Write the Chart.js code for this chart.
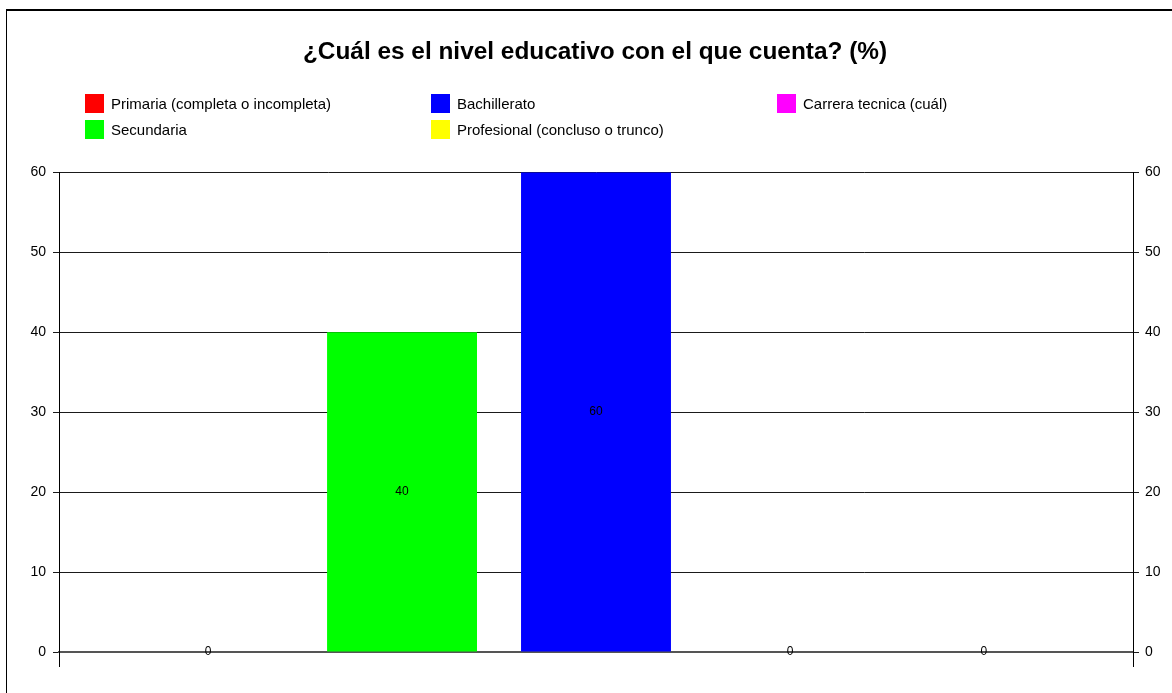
<!DOCTYPE html>
<html>
<head>
<meta charset="utf-8">
<script src="https://cdn.jsdelivr.net/npm/chart.js@4/dist/chart.umd.min.js"></script>
<style>
  body { margin: 0; background: #fff; font-family: "Liberation Sans", Arial, sans-serif; }
  #wrap { position: relative; width: 1172px; height: 693px; overflow: hidden; }
  #frame { position: absolute; left: 6px; top: 9px; right: -10px; bottom: -10px;
           border-left: 1px solid #000; border-top: 2px solid #000; }
  #legend { position: absolute; left: 85px; top: 93px; display: grid;
            grid-template-rows: 26px 26px; grid-auto-flow: column;
            grid-auto-columns: 346px; font-size: 15px; color: #000; }
  .item { display: flex; align-items: center; height: 20px; }
  .box { width: 19px; height: 19px; margin-right: 7px; }
</style>
</head>
<body>
<div id="wrap">
  <canvas id="chart" width="1172" height="693"></canvas>
  <div id="frame"></div>
  <div id="legend"></div>
</div>
<script>
// nivel educativo chart //
const seriesNames = [
  "Primaria (completa o incompleta)",
  "Secundaria",
  "Bachillerato",
  "Profesional (concluso o trunco)",
  "Carrera tecnica (cuál)",
];
const seriesValues = [0, 40, 60, 0, 0]; // %
const seriesColors = ["#ff0000", "#00ff00", "#0000ff", "#ffff00", "#ff00ff"];
const yTicks = [0, 10, 20, 30, 40, 50, 60];

// value written in the middle of each bar
const valueLabels = {
  id: "valueLabels",
  afterDatasetsDraw(chart) {
    const ctx = chart.ctx;
    ctx.save();
    ctx.font = "12px 'Liberation Sans', Arial, sans-serif";
    ctx.fillStyle = "#000";
    ctx.textAlign = "center";
    ctx.textBaseline = "middle";
    chart.data.datasets.forEach((ds, i) => {
      chart.getDatasetMeta(i).data.forEach((bar, j) => {
        ctx.fillText(String(ds.data[j]), bar.x, (bar.y + bar.base) / 2);
      });
    });
    ctx.restore();
  },
};

const data = {
  labels: [""],
  datasets: seriesNames.map((name, i) => ({
    label: name,
    data: [seriesValues[i]],
    backgroundColor: seriesColors[i],
    borderWidth: 0,
    categoryPercentage: 0.903,
    barPercentage: 0.773,
  })),
};

const tickFont = { family: "'Liberation Sans', Arial, sans-serif", size: 14 };

const config = {
  type: "bar",
  data: data,
  options: {
    responsive: false,
    animation: false,
    layout: { padding: { left: 18, top: 0, right: 0, bottom: 0 } },
    plugins: {
      legend: { display: false },
      tooltip: { enabled: false },
      title: {
        display: true,
        text: "¿Cuál es el nivel educativo con el que cuenta? (%)",
        color: "#000",
        font: { family: "'Liberation Sans', Arial, sans-serif", size: 24.4, weight: "bold" },
        padding: { top: 38, bottom: 105 },
      },
    },
    scales: {
      x: {
        grid: {
          display: true,
          offset: true,
          drawOnChartArea: false,
          drawTicks: true,
          tickLength: 15,
          color: "#000",
        },
        border: { display: true, color: "#555", width: 2 },
        ticks: { display: true, font: tickFont },
        afterFit(scale) { scale.height = 41; },
      },
      y: {
        position: "left",
        min: 0,
        max: 60,
        afterBuildTicks(scale) { scale.ticks = yTicks.map((v) => ({ value: v })); },
        grid: { color: "#1a1a1a", tickLength: 6, lineWidth: 1 },
        border: { display: true, color: "#000", width: 1 },
        ticks: { color: "#000", font: tickFont, padding: 7 },
        afterFit(scale) { scale.width = 41; },
      },
      y2: {
        position: "right",
        min: 0,
        max: 60,
        afterBuildTicks(scale) { scale.ticks = yTicks.map((v) => ({ value: v })); },
        grid: { drawOnChartArea: false, color: "#1a1a1a", tickLength: 6 },
        border: { display: true, color: "#000", width: 1 },
        ticks: { color: "#000", font: tickFont, padding: 6 },
        afterFit(scale) { scale.width = 39; },
      },
    },
  },
  plugins: [valueLabels],
};

const ctx = document.getElementById("chart").getContext("2d");
const chart = new Chart(ctx, config);

// legend, two rows filled column by column
const legend = document.getElementById("legend");
chart.data.datasets.forEach((ds) => {
  const item = document.createElement("div");
  item.className = "item";
  const box = document.createElement("span");
  box.className = "box";
  box.style.background = ds.backgroundColor;
  const txt = document.createElement("span");
  txt.textContent = ds.label;
  item.appendChild(box);
  item.appendChild(txt);
  legend.appendChild(item);
});
</script>
</body>
</html>
